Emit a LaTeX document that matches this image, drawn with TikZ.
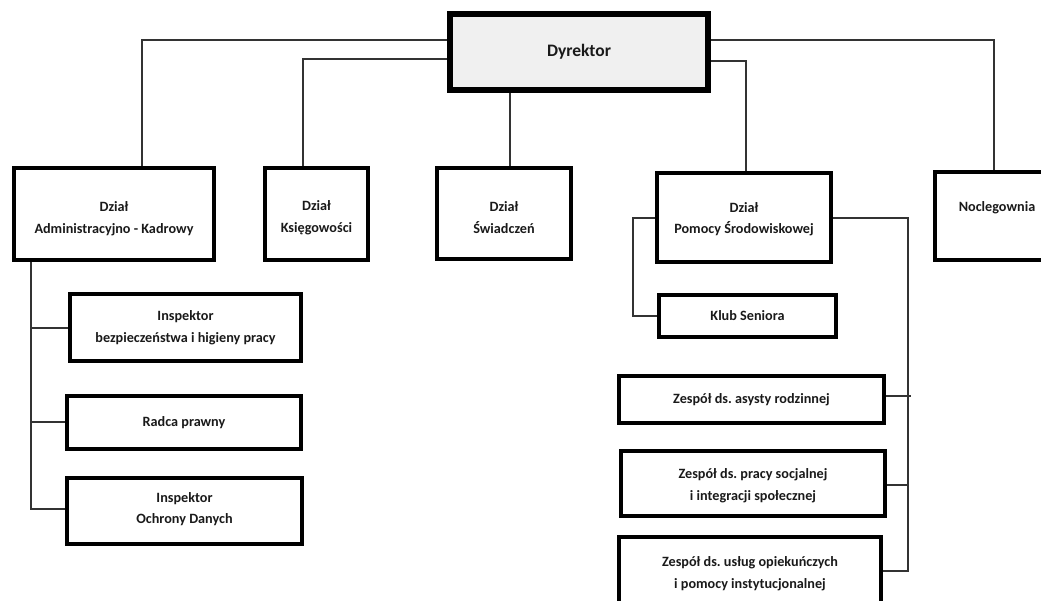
\documentclass[tikz,border=0pt]{standalone}
\usepackage{fontspec}
\setmainfont{Carlito}
\frenchspacing
\definecolor{boxfill}{HTML}{F0F0F0}
\definecolor{linec}{HTML}{333333}
\definecolor{txt}{HTML}{1A1A1A}
\begin{document}
\begin{tikzpicture}[x=1pt,y=-1pt,
  box/.style={draw=black, line width=4pt, fill=white, rectangle, inner sep=0pt,
    align=center, text=txt, font=\bfseries\fontsize{14.2}{21.5}\selectfont},
  lab/.style={inner sep=0pt, align=center, text=txt, font=\bfseries\fontsize{14.2}{21.5}\selectfont},
  topbox/.style={box, line width=6pt, fill=boxfill, font=\bfseries\fontsize{17.5}{21}\selectfont},
  conn/.style={draw=linec, line width=1.1pt}]
\useasboundingbox (0,0) rectangle (1041,600);
\clip (0,0) rectangle (1041,600);
% nodes
\node[topbox, minimum width=258pt, minimum height=76pt] (dyr) at (579,52) {Dyrektor};
\node[box, minimum width=200pt, minimum height=92pt] (adm) at (114,214) {};
\node[lab, yshift=-4.5pt] (admT) at (adm.center) {Dział\\Administracyjno - Kadrowy};
\node[box, minimum width=103pt, minimum height=92pt] (ksi) at (316.5,214) {};
\node[lab, yshift=-3.5pt] (ksiT) at (ksi.center) {Dział\\Księgowości};
\node[box, minimum width=134pt, minimum height=91pt] (swi) at (504,213.5) {};
\node[lab, yshift=-4pt] (swiT) at (swi.center) {Dział\\Świadczeń};
\node[box, minimum width=174pt, minimum height=89pt] (pom) at (744,217.5) {};
\node[lab, yshift=-1.5pt] (pomT) at (pom.center) {Dział\\Pomocy Środowiskowej};
\node[box, minimum width=124pt, minimum height=88pt] (noc) at (997,216) {};
\node[lab, yshift=8pt] (nocT) at (noc.center) {Noclegownia};
\node[box, minimum width=231pt, minimum height=67pt] (bhp) at (185.5,327.5) {Inspektor\\bezpieczeństwa i higieny pracy};
\node[box, minimum width=234pt, minimum height=53pt] (rad) at (184,422.5) {Radca prawny};
\node[box, minimum width=235pt, minimum height=66pt] (iod) at (184.5,511) {};
\node[lab, yshift=2pt] (iodT) at (iod.center) {Inspektor\\Ochrony Danych};
\node[box, minimum width=177pt, minimum height=42pt] (klub) at (747.5,316) {Klub Seniora};
\node[box, minimum width=265pt, minimum height=47pt] (asy) at (751.5,399.5) {Zespół ds. asysty rodzinnej};
\node[box, minimum width=264pt, minimum height=65pt] (pra) at (753,483.5) {};
\node[lab, yshift=-2pt] (praT) at (pra.center) {Zespół ds. pracy socjalnej\\i integracji społecznej};
\node[box, minimum width=262pt, minimum height=73pt] (usl) at (750,573.5) {Zespół ds. usług opiekuńczych\\i pomocy instytucjonalnej};
% connectors
\draw[conn] (dyr.west |- 0,40) -| (142,0 |- adm.north);
\draw[conn] (dyr.west |- 0,59) -| (303,0 |- ksi.north);
\draw[conn] (510,0 |- dyr.south) -- (510,0 |- swi.north);
\draw[conn] (dyr.east |- 0,40) -| (994,0 |- noc.north);
\draw[conn] (dyr.east |- 0,61) -| (746,0 |- pom.north);
\coordinate (aL) at (31,509);
\draw[conn] (31,0 |- adm.south) -- (aL) -- (aL -| iod.west);
\draw[conn] (31,328) -- (bhp.west |- 0,328);
\draw[conn] (31,422) -- (rad.west |- 0,422);
\coordinate (pL) at (633,218);
\draw[conn] (pom.west |- pL) -- (pL) |- (klub.west);
\coordinate (pR) at (908,218);
\coordinate (pRb) at (908,571);
\draw[conn] (pom.east |- pR) -- (pR) -- (pRb) -- (usl.east |- pRb);
\draw[conn] (asy.east |- 0,396) -- (911,396);
\draw[conn] (pra.east |- 0,485) -- (908,485);
\end{tikzpicture}
\end{document}
